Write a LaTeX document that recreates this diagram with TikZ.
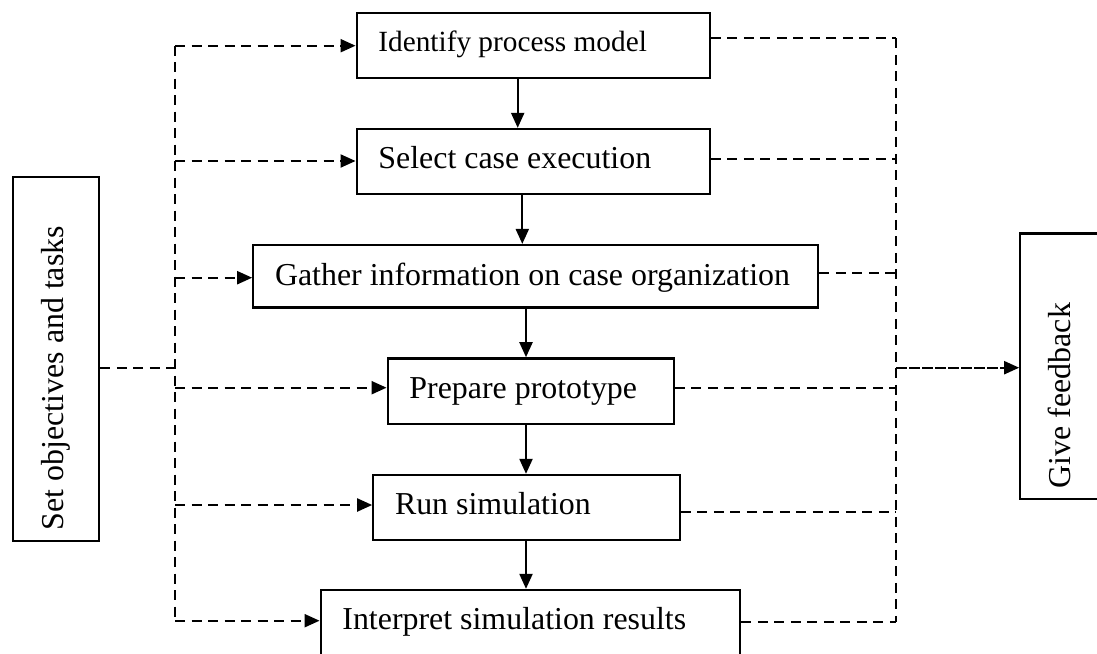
\documentclass[tikz,border=0pt]{standalone}
\usepackage{fontspec}
\setmainfont{Liberation Serif}
\usetikzlibrary{arrows.meta}
\newcommand{\lefttxt}[2]{\makebox[#1][l]{#2}}
\begin{document}
\begin{tikzpicture}[x=1pt,y=-1pt,
  every node/.style={font=\fontsize{31.9}{36}\selectfont},
  box/.style={draw, line width=2.3pt, inner xsep=21.7pt, inner ysep=0pt,
              text height=22pt, text depth=8pt},
  side/.style={draw, line width=2.3pt, rotate=90, inner xsep=11pt, inner ysep=0pt,
               text height=22pt, text depth=8pt, minimum height=86.6pt},
  tip/.style={-{Triangle[length=15pt,width=13pt]}},
  flow/.style={line width=2.1pt, tip},
  link/.style={line width=2.1pt, dash pattern=on 10pt off 6.5pt},
  linkarr/.style={link, tip},
  fbarr/.style={line width=2.1pt, dash pattern=on 11pt off 2pt, tip}
]
\useasboundingbox (0,0) rectangle (1097,653);
\clip (0,0) rectangle (1097,653);

% process boxes
\node[box, minimum height=65.6pt, text height=20.4pt,
      font=\fontsize{29.3}{34}\selectfont] (b1) at (533.2,45.5) {\lefttxt{309.6pt}{Identify process model}};
\node[box, minimum height=65pt] (b2) at (533.2,161.5) {\lefttxt{309.6pt}{Select case execution}};
\node[box, minimum height=62.3pt, text height=25.6pt] (b3) at (535.8,276.2) {\lefttxt{521.6pt}{Gather information on case organization}};
\node[box, minimum height=65.7pt] (b4) at (530.7,391.2) {\lefttxt{242.6pt}{Prepare prototype}};
\node[box, minimum height=65pt] (b5) at (526.5,507.5) {\lefttxt{263pt}{Run simulation}};
\node[box, minimum height=65pt] (b6) at (530.5,622.5) {\lefttxt{376.2pt}{Interpret simulation results}};

% side boxes
\node[side] (L) at (56,359) {\lefttxt{342pt}{Set objectives and tasks}};
\node[side] (R) at (1063.6,366.2) {\lefttxt{243.7pt}{Give feedback}};

% solid flow arrows
\coordinate (v12) at (517.7,0);
\coordinate (v23) at (522.3,0);
\coordinate (v3) at (526,0);
\draw[flow] (b1.south -| v12) -- (b2.north -| v12);
\draw[flow] (b2.south -| v23) -- (b3.north -| v23);
\draw[flow] (b3.south -| v3) -- (b4.north -| v3);
\draw[flow] (b4.south -| v3) -- (b5.north -| v3);
\draw[flow] (b5.south -| v3) -- (b6.north -| v3);

% left bus
\coordinate (l1) at (175,45.7);
\coordinate (l2) at (175,161);
\coordinate (l3) at (175,277.7);
\coordinate (lc) at (175,367.7);
\coordinate (l4) at (175,387.7);
\coordinate (l5) at (175,505);
\coordinate (l6) at (175,620.7);
\draw[link] (l1) -- (l6);
\draw[link] (L.south |- lc) -- (lc);
\draw[linkarr] (l1) -- (l1 -| b1.west);
\draw[linkarr] (l2) -- (l2 -| b2.west);
\draw[linkarr] (l3) -- (l3 -| b3.west);
\draw[linkarr] (l4) -- (l4 -| b4.west);
\draw[linkarr] (l5) -- (l5 -| b5.west);
\draw[linkarr] (l6) -- (l6 -| b6.west);

% right bus
\coordinate (r1) at (896,38.3);
\coordinate (r2) at (896,159.3);
\coordinate (r3) at (896,272.7);
\coordinate (rc) at (896,367.7);
\coordinate (r4) at (896,387.7);
\coordinate (r5) at (896,511.7);
\coordinate (r6) at (896,621.7);
\draw[link] (r1) -- (r6);
\draw[link] (r1 -| b1.east) -- (r1);
\draw[link] (r2 -| b2.east) -- (r2);
\draw[link] (r3 -| b3.east) -- (r3);
\draw[link] (r4 -| b4.east) -- (r4);
\draw[link] (r5 -| b5.east) -- (r5);
\draw[link] (r6 -| b6.east) -- (r6);
\draw[fbarr] (rc) -- (rc -| R.north);
\end{tikzpicture}
\end{document}
